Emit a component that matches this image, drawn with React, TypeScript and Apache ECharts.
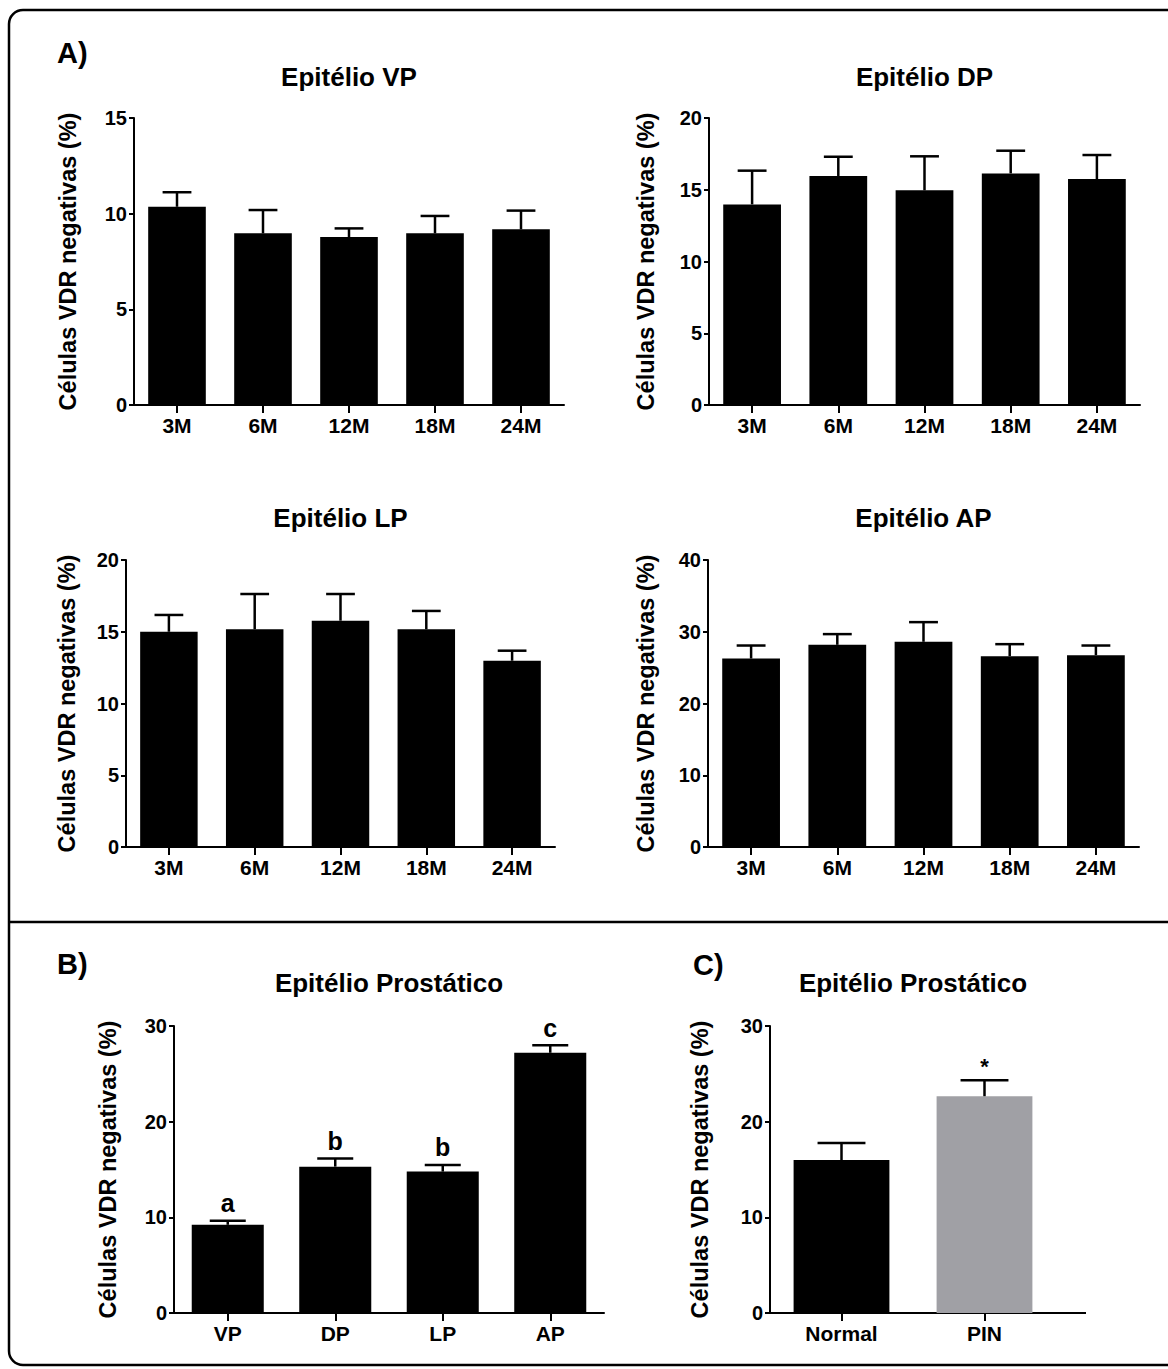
import React, { useEffect, useRef } from "react";
import * as echarts from "echarts";

// ---------- data ----------
const months = ["3M", "6M", "12M", "18M", "24M"];
const vpMean = [10.36, 8.97, 8.78, 8.97, 9.18];
const vpSem = [0.76, 1.22, 0.45, 0.91, 0.98];
const dpMean = [13.98, 15.96, 14.96, 16.14, 15.75];
const dpSem = [2.35, 1.34, 2.37, 1.58, 1.67];
const lpMean = [15.0, 15.17, 15.77, 15.17, 12.98];
const lpSem = [1.17, 2.46, 1.86, 1.28, 0.7];
const apMean = [26.27, 28.18, 28.6, 26.6, 26.74];
const apSem = [1.81, 1.49, 2.74, 1.67, 1.34];

const lobes = ["VP", "DP", "LP", "AP"];
const lobeMean = [9.22, 15.3, 14.78, 27.2];
const lobeSem = [0.42, 0.84, 0.7, 0.8];
const lobeLetters = ["a", "b", "b", "c"];

const groups = ["Normal", "PIN"];
const groupMean = [15.98, 22.66];
const groupSem = [1.8, 1.68];
const groupMarks = ["", "*"];
const groupColors = ["#000000", "#a0a0a5"];

const yName = "Células VDR negativas (%)";

// ---------- layout ----------
const FONT = '"Liberation Sans", Arial, Helvetica, sans-serif';

const panels = [
  { title: "Epitélio VP", cats: months, mean: vpMean, sem: vpSem, max: 15, interval: 5, left: 134, top: 118, width: 430, height: 287, titleY: 77, yTitleX: 68 },
  { title: "Epitélio DP", cats: months, mean: dpMean, sem: dpSem, max: 20, interval: 5, left: 709, top: 118, width: 431, height: 287, titleY: 77, yTitleX: 646 },
  { title: "Epitélio LP", cats: months, mean: lpMean, sem: lpSem, max: 20, interval: 5, left: 126, top: 560, width: 429, height: 287, titleY: 518, yTitleX: 67 },
  { title: "Epitélio AP", cats: months, mean: apMean, sem: apSem, max: 40, interval: 10, left: 708, top: 560, width: 431, height: 287, titleY: 518, yTitleX: 646 },
  { title: "Epitélio Prostático", cats: lobes, mean: lobeMean, sem: lobeSem, marks: lobeLetters, max: 30, interval: 10, left: 174, top: 1026, width: 430, height: 287, titleY: 983, yTitleX: 108 },
  { title: "Epitélio Prostático", cats: groups, mean: groupMean, sem: groupSem, marks: groupMarks, colors: groupColors, max: 30, interval: 10, left: 770, top: 1026, width: 286, height: 287, titleY: 983, yTitleX: 700, axisExtendTo: 1086 },
];

function buildOption() {
  const grid: any[] = [];
  const xAxis: any[] = [];
  const yAxis: any[] = [];
  const series: any[] = [];
  const graphic: any[] = [];

  // frame
  graphic.push({
    type: "rect",
    shape: { x: 9, y: 10, width: 1175, height: 1355, r: 14 },
    style: { fill: "none", stroke: "#000", lineWidth: 2.5 },
    silent: true,
  });
  graphic.push({
    type: "line",
    shape: { x1: 9, y1: 922, x2: 1168, y2: 922 },
    style: { stroke: "#000", lineWidth: 2.5 },
    silent: true,
  });
  const panelLabels = [
    { t: "A)", x: 57, y: 53 },
    { t: "B)", x: 57, y: 964 },
    { t: "C)", x: 693, y: 965 },
  ];
  panelLabels.forEach((p) =>
    graphic.push({
      type: "text",
      x: p.x,
      y: p.y,
      style: { text: p.t, font: `bold 29px ${FONT}`, fill: "#000", align: "left", verticalAlign: "middle", textAlign: "left", textVerticalAlign: "middle" },
    })
  );

  panels.forEach((p, i) => {
    grid.push({ left: p.left, top: p.top, width: p.width, height: p.height, containLabel: false, outerBoundsMode: "none" });
    xAxis.push({
      type: "category",
      gridIndex: i,
      data: p.cats,
      axisLine: { show: true, lineStyle: { color: "#000", width: 2 } },
      axisTick: { show: true, alignWithLabel: true, length: 8, lineStyle: { color: "#000", width: 2 } },
      axisLabel: { color: "#000", fontFamily: FONT, fontWeight: "bold", fontSize: 21, margin: 10 },
      splitLine: { show: false },
    });
    yAxis.push({
      type: "value",
      gridIndex: i,
      min: 0,
      max: p.max,
      interval: p.interval,
      axisLine: { show: true, lineStyle: { color: "#000", width: 2 } },
      axisTick: { show: true, length: 5, lineStyle: { color: "#000", width: 2 } },
      axisLabel: { color: "#000", fontFamily: FONT, fontWeight: "bold", fontSize: 20, margin: 7 },
      splitLine: { show: false },
    });
    series.push({
      type: "bar",
      xAxisIndex: i,
      yAxisIndex: i,
      barCategoryGap: "33%",
      data: p.mean.map((v, j) => ({ value: v, itemStyle: { color: p.colors ? p.colors[j] : "#000" } })),
      z: 2,
    });
    const marks = p.marks;
    series.push({
      type: "custom",
      xAxisIndex: i,
      yAxisIndex: i,
      z: 3,
      data: p.mean.map((m, j) => [j, m, m + p.sem[j]]),
      renderItem: (params: any, api: any) => {
        const idx = api.value(0);
        const base = api.coord([idx, api.value(1)]);
        const top = api.coord([idx, api.value(2)]);
        const band = api.size([1, 0])[0];
        const cap = (band * 0.67) / 4;
        const children: any[] = [
          { type: "line", shape: { x1: base[0], y1: base[1], x2: top[0], y2: top[1] }, style: { stroke: "#000", lineWidth: 2.5 } },
          { type: "line", shape: { x1: top[0] - cap, y1: top[1], x2: top[0] + cap, y2: top[1] }, style: { stroke: "#000", lineWidth: 2.5 } },
        ];
        const m = marks ? marks[params.dataIndex] : "";
        if (m) {
          const isStar = m === "*";
          children.push({
            type: "text",
            x: top[0],
            y: top[1] - (isStar ? 3 : 5),
            style: {
              text: m,
              font: `bold ${isStar ? 22 : 25}px ${FONT}`,
              fill: "#000",
              align: "center",
              verticalAlign: "bottom",
              textAlign: "center",
              textVerticalAlign: "bottom",
            },
          });
        }
        return { type: "group", children };
      },
    });
    // chart title
    graphic.push({
      type: "text",
      x: p.left + p.width / 2,
      y: p.titleY,
      style: { text: p.title, font: `bold 26px ${FONT}`, fill: "#000", align: "center", verticalAlign: "middle", textAlign: "center", textVerticalAlign: "middle" },
    });
    // y axis title
    graphic.push({
      type: "text",
      x: p.yTitleX,
      y: p.top + p.height / 2,
      rotation: Math.PI / 2,
      style: { text: yName, font: `bold 23.5px ${FONT}`, fill: "#000", align: "center", verticalAlign: "middle", textAlign: "center", textVerticalAlign: "middle" },
    });
    if (p.axisExtendTo) {
      graphic.push({
        type: "line",
        shape: { x1: p.left + p.width - 1, y1: p.top + p.height, x2: p.axisExtendTo, y2: p.top + p.height },
        style: { stroke: "#000", lineWidth: 2 },
        silent: true,
      });
    }
  });

  return {
    animation: false,
    backgroundColor: "#ffffff",
    textStyle: { fontFamily: FONT },
    grid,
    xAxis,
    yAxis,
    series,
    graphic,
  };
}

export default function App() {
  const ref = useRef<HTMLDivElement>(null);
  useEffect(() => {
    document.body.style.margin = "0";
    if (!ref.current) return;
    const chart = echarts.init(ref.current, undefined, { renderer: "svg" });
    chart.setOption(buildOption() as any);
    return () => chart.dispose();
  }, []);
  return <div ref={ref} style={{ position: "absolute", left: 0, top: 0, width: 1168, height: 1369 }} />;
}
